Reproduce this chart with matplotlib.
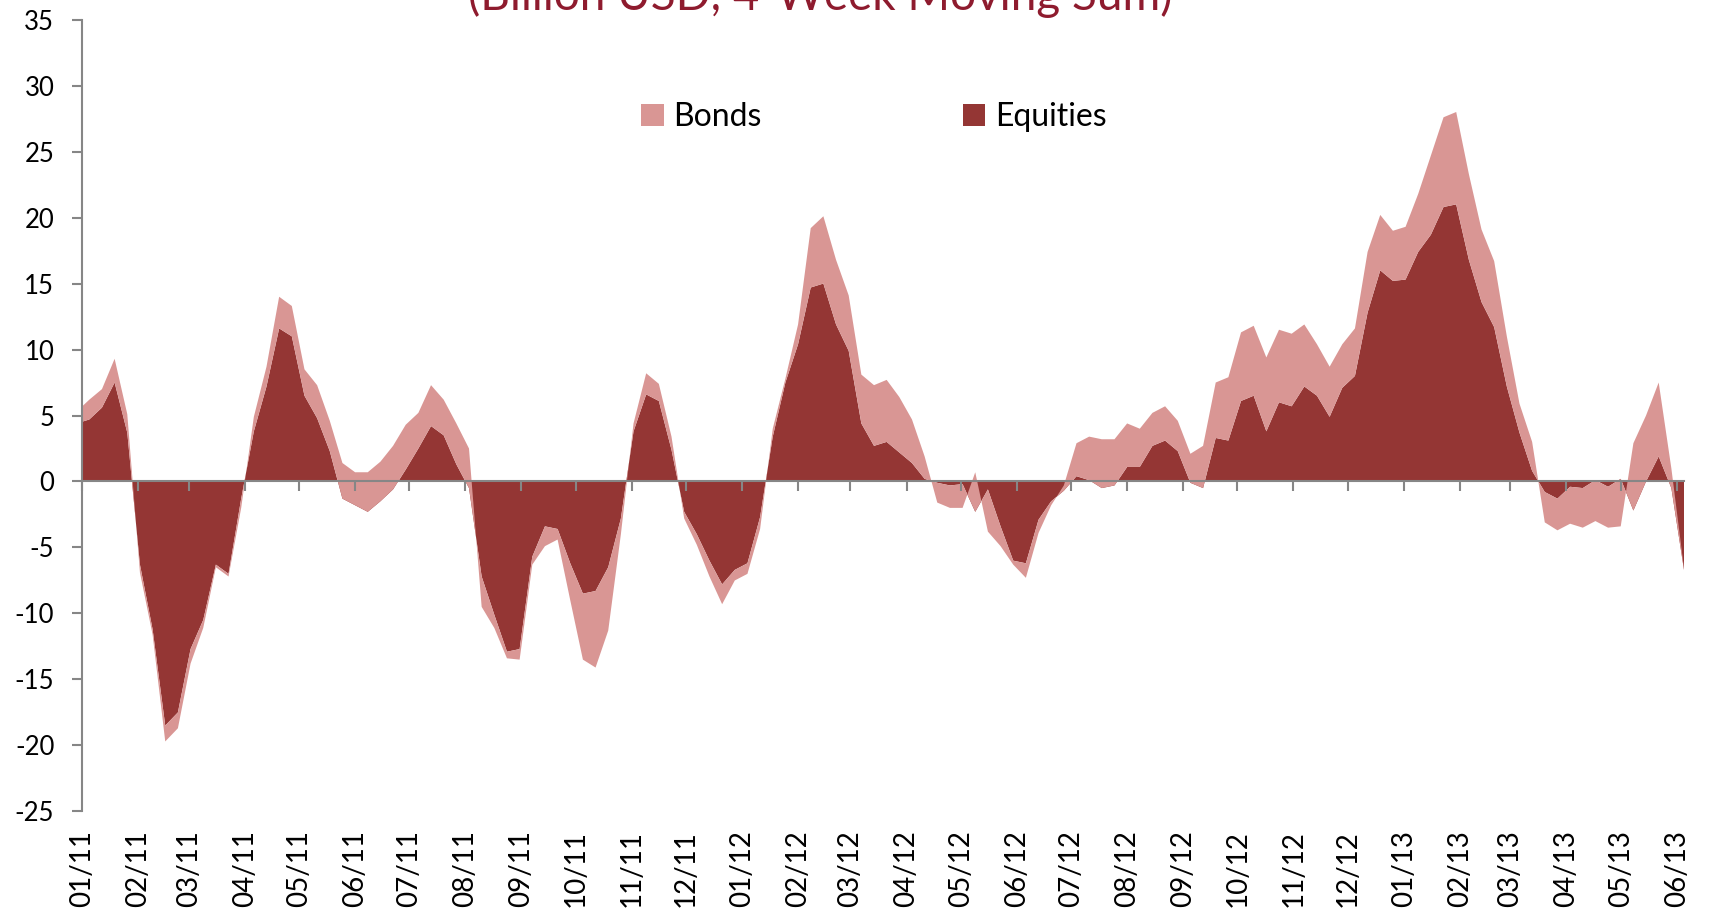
import datetime as dt
import matplotlib
matplotlib.use("Agg")
import matplotlib.pyplot as plt
from matplotlib.patches import Patch

plt.rcParams["font.family"] = ["Lato", "DejaVu Sans"]
plt.rcParams["axes.unicode_minus"] = False

DARK = "#943634"
PINK = "#D99694"
GREY = "#868686"

# weekly 4-week moving sums (billion USD), Wednesdays from 29 Dec 2010
start = dt.date(2010, 12, 29)
equities = [
    4.4, 4.7, 5.6, 7.5, 3.7, -6.3, -11.2, -18.5, -17.5, -12.7,
    -10.5, -6.3, -7.0, -1.3, 3.8, 7.2, 11.6, 11.0, 6.5, 4.8,
    2.3, -1.3, -1.8, -2.3, -1.5, -0.6, 0.9, 2.5, 4.2, 3.5,
    1.3, -0.5, -7.2, -10.1, -12.9, -12.7, -5.7, -3.4, -3.6, -6.2,
    -8.5, -8.3, -6.5, -2.8, 3.8, 6.6, 6.1, 2.4, -2.3, -4.0,
    -6.0, -7.8, -6.7, -6.2, -2.7, 3.4, 7.5, 10.4, 14.7, 15.0,
    11.9, 9.9, 4.4, 2.7, 3.0, 2.2, 1.4, 0.2, -0.1, -0.3,
    -0.2, -2.3, -0.6, -3.4, -6.0, -6.2, -2.9, -1.5, -0.7, 0.4,
    0.1, -0.5, -0.3, 1.1, 1.1, 2.7, 3.1, 2.3, -0.1, -0.5,
    3.3, 3.1, 6.1, 6.5, 3.8, 6.0, 5.7, 7.2, 6.5, 4.9,
    7.1, 8.0, 12.8, 16.0, 15.2, 15.3, 17.4, 18.7, 20.8, 21.0,
    16.8, 13.6, 11.7, 7.2, 3.7, 0.8, -0.8, -1.3, -0.4, -0.5,
    0.1, -0.4, 0.2, -2.2, 0.0, 1.9, -0.5, -6.7,
]
bonds = [
    0.9, 1.5, 1.4, 1.8, 1.4, -0.6, -0.4, -1.2, -1.2, -1.1,
    -0.6, -0.2, -0.2, -0.7, 1.1, 1.5, 2.4, 2.3, 2.0, 2.5,
    2.3, 2.7, 2.5, 3.0, 3.0, 3.3, 3.4, 2.7, 3.1, 2.7,
    3.1, 3.0, -2.3, -1.0, -0.5, -0.8, -0.6, -1.5, -0.8, -2.8,
    -5.0, -5.8, -4.8, -1.2, 0.6, 1.6, 1.3, 1.0, -0.5, -0.8,
    -1.2, -1.5, -0.8, -0.8, -0.9, 0.6, 0.3, 1.5, 4.5, 5.1,
    4.9, 4.2, 3.7, 4.6, 4.7, 4.2, 3.3, 1.7, -1.5, -1.7,
    -1.8, 3.0, -3.2, -1.5, -0.3, -1.1, -1.0, -0.3, 0.4, 2.5,
    3.3, 3.7, 3.5, 3.3, 2.9, 2.5, 2.6, 2.3, 2.2, 3.2,
    4.2, 4.8, 5.2, 5.3, 5.6, 5.5, 5.5, 4.7, 3.9, 3.8,
    3.3, 3.6, 4.6, 4.2, 3.8, 4.0, 4.4, 6.0, 6.8, 7.0,
    6.5, 5.5, 5.0, 3.8, 2.2, 2.2, -2.3, -2.4, -2.8, -3.0,
    -3.1, -3.1, -3.6, 5.1, 5.0, 5.6, 1.5, 0.1,
]
month_labels = [
    "01/11", "02/11", "03/11", "04/11", "05/11", "06/11", "07/11", "08/11",
    "09/11", "10/11", "11/11", "12/11", "01/12", "02/12", "03/12", "04/12",
    "05/12", "06/12", "07/12", "08/12", "09/12", "10/12", "11/12", "12/12",
    "01/13", "02/13", "03/13", "04/13", "05/13", "06/13",
]

weeks = [start + dt.timedelta(days=7 * i) for i in range(len(equities))]
total = [e + b for e, b in zip(equities, bonds)]
months = [dt.date(2000 + int(s[3:]), int(s[:2]), 1) for s in month_labels]

fig = plt.figure(figsize=(17.10, 9.13), dpi=100)
ax = fig.add_axes([0.048, 0.1113, 0.9368, 0.8672])

# stacked area: equities from 0, bonds stacked on top of equities
ax.fill_between(weeks, 0, equities, fc=DARK, lw=0, zorder=1)
ax.fill_between(weeks, equities, total, fc=PINK, lw=0, zorder=1.1)

ax.set_xlim(dt.date(2011, 1, 1), weeks[-1])
ax.set_ylim(-25, 35)
ax.set_yticks(range(-25, 40, 5))

for s in ("top", "right"):
    ax.spines[s].set_visible(False)
for s in ("left", "bottom"):
    ax.spines[s].set_color(GREY)
    ax.spines[s].set_linewidth(1.5)
    ax.spines[s].set_zorder(3)
ax.spines["bottom"].set_position(("data", 0))

ax.set_xticks(months)
ax.tick_params(axis="x", direction="out", length=7, width=1.5, color=GREY,
               labelbottom=False)
ax.tick_params(axis="y", direction="out", length=7, width=1.5, color=GREY,
               labelsize=18.5, pad=13)

for d, lab in zip(months, month_labels):
    ax.text(d, -0.024, lab, transform=ax.get_xaxis_transform(), rotation=90,
            ha="center", va="top", fontsize=20)

handles = [Patch(fc=PINK, ec="none"), Patch(fc=DARK, ec="none")]
fig.legend(handles, ["Bonds", "Equities"], loc="center",
           bbox_to_anchor=(0.511, 0.872), ncol=2, frameon=False, fontsize=23,
           handlelength=0.7, handleheight=0.7, handletextpad=0.3,
           columnspacing=6.3)

fig.text(0.4795, 0.9885, "(Billion USD, 4-Week Moving Sum)", ha="center",
         va="baseline", fontsize=33, color="#8E1B2E")

fig.savefig("out.png", dpi=100)
